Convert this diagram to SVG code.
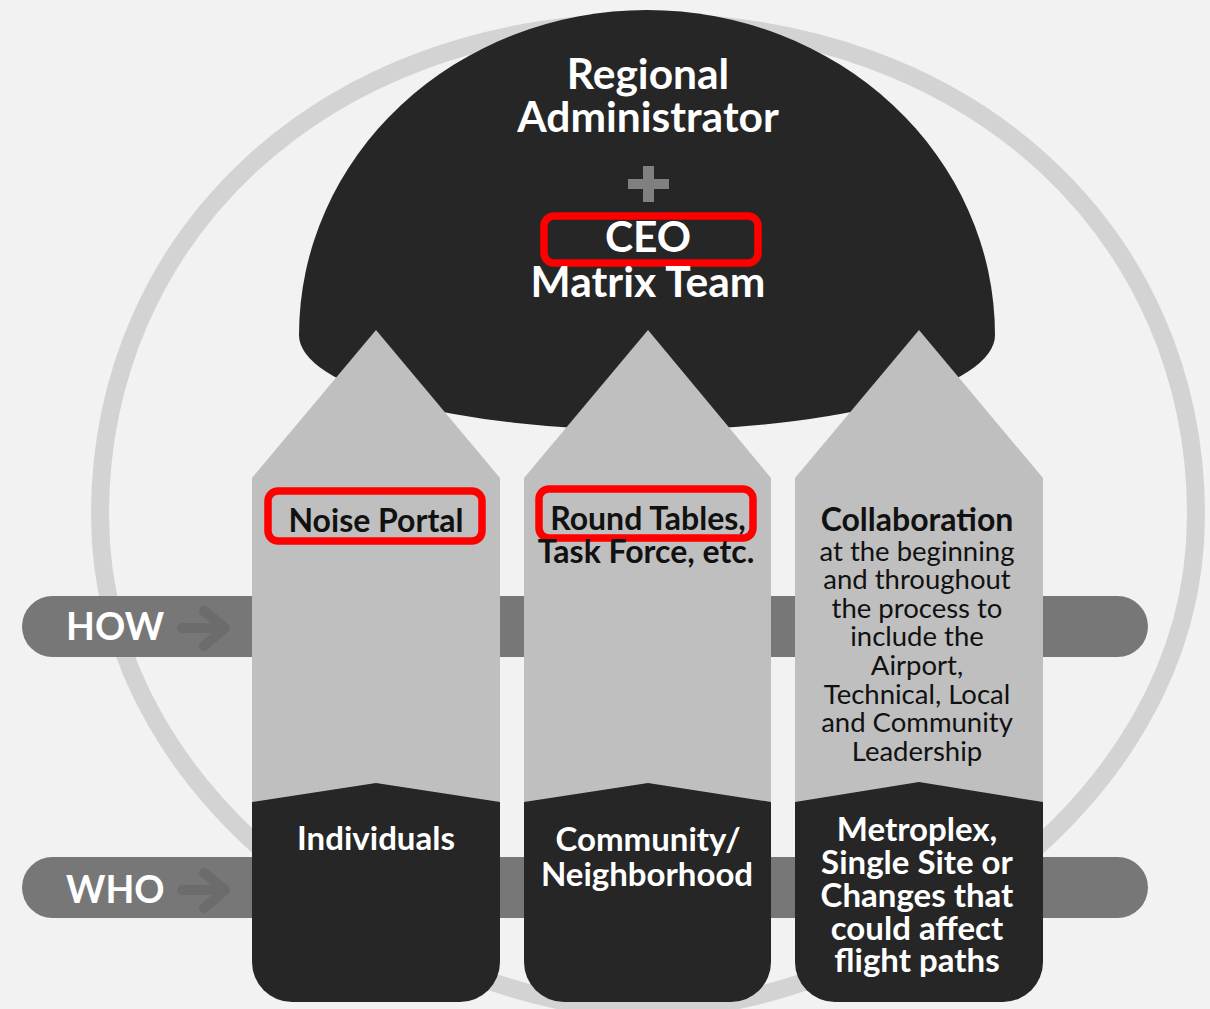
<svg xmlns="http://www.w3.org/2000/svg" width="1210" height="1009" viewBox="0 0 1210 1009">
  <defs>
    <style>
      .bg { fill: #f2f2f2; }
      .ring { fill: none; stroke: #d3d3d3; stroke-width: 18; }
      .dark { fill: #262626; }
      .light { fill: #bfbfbf; }
      .bar { fill: #777777; }
      .bar-arrow { fill: none; stroke: #6c6c6c; stroke-width: 10; stroke-linecap: round; stroke-linejoin: round; }
      .hl { fill: none; stroke: #ff0000; stroke-width: 7.5; }
      .t { font-family: Lato, "Open Sans", "Liberation Sans", sans-serif; text-anchor: middle; }
      .w { fill: #ffffff; font-weight: bold; }
      .b { fill: #111111; }
      .bold { font-weight: bold; }
      .big { font-size: 42.5px; }
      .mid { font-size: 32px; }
      .dk { font-size: 33px; }
      .small { font-size: 27.5px; }
      .lbl { font-family: Lato, "Open Sans", "Liberation Sans", sans-serif; font-size: 37.5px; font-weight: bold; fill: #ffffff; }
    </style>
  </defs>

  <rect class="bg" x="0" y="0" width="1210" height="1009"/>

  <!-- outer ring behind everything -->
  <g id="ring">
    <path class="ring" d="M100,515 C100,239 319,22 648,22 C977,22 1196,239 1196,515 C1196,822 856,1010 648,1010 C440,1010 100,822 100,515 Z"/>
  </g>

  <!-- leadership dome -->
  <g id="dome">
    <path class="dark" d="M299,335 A348,325 0 0 1 995,335 A348,95 0 0 1 299,335 Z"/>
    <text class="t w big" x="648" y="89">Regional</text>
    <text class="t w big" x="648" y="132">Administrator</text>
    <rect x="628" y="179" width="41" height="10" fill="#808080"/>
    <rect x="643" y="166" width="11" height="36" fill="#808080"/>
    <rect class="hl" x="544" y="216" width="214" height="47" rx="10"/>
    <text class="t w big" x="648" y="252">CEO</text>
    <text class="t w big" x="648" y="297">Matrix Team</text>
  </g>

  <!-- HOW / WHO bands -->
  <g id="how">
    <rect class="bar" x="22" y="596" width="1126" height="61" rx="30.5"/>
    <text class="lbl" x="66" y="640">HOW</text>
  </g>
  <g id="who">
    <rect class="bar" x="22" y="857" width="1126" height="61" rx="30.5"/>
    <text class="lbl" x="66" y="903">WHO</text>
  </g>
  <g id="connectors">
    <path class="bar-arrow" d="M182,628 H224 M204,611 L225,628 L204,646"/>
    <path class="bar-arrow" d="M182,890 H224 M204,873 L225,890 L204,908"/>
  </g>

  <!-- column 1 -->
  <g id="col-individuals">
    <polygon class="light" points="376,330 500,478 500,805 252,805 252,478"/>
    <path class="dark" d="M252,802 L376,783 L500,802 L500,962 A40,40 0 0 1 460,1002 L292,1002 A40,40 0 0 1 252,962 Z"/>
    <rect class="hl" x="268" y="491" width="214" height="50" rx="10"/>
    <text class="t b bold mid" x="376" y="532">Noise Portal</text>
    <text class="t w dk" x="376" y="850">Individuals</text>
  </g>

  <!-- column 2 -->
  <g id="col-community">
    <polygon class="light" points="648,330 771,478 771,805 524,805 524,478"/>
    <path class="dark" d="M524,802 L648,783 L771,802 L771,962 A40,40 0 0 1 731,1002 L564,1002 A40,40 0 0 1 524,962 Z"/>
    <rect class="hl" x="539" y="489" width="214" height="49" rx="10"/>
    <text class="t b bold mid" x="648" y="530">Round Tables,</text>
    <text class="t b bold mid" x="646" y="563">Task Force, etc.</text>
    <text class="t w dk" x="648" y="851">Community/</text>
    <text class="t w dk" x="647" y="886">Neighborhood</text>
  </g>

  <!-- column 3 -->
  <g id="col-metroplex">
    <polygon class="light" points="919,330 1043,478 1043,805 795,805 795,478"/>
    <path class="dark" d="M795,802 L919,782 L1043,802 L1043,962 A40,40 0 0 1 1003,1002 L835,1002 A40,40 0 0 1 795,962 Z"/>
    <text class="t b bold mid" x="917" y="531">Collaboration</text>
    <text class="t b small" x="917" y="561">at the beginning</text>
    <text class="t b small" x="917" y="589">and throughout</text>
    <text class="t b small" x="917" y="618">the process to</text>
    <text class="t b small" x="917" y="646">include the</text>
    <text class="t b small" x="917" y="675">Airport,</text>
    <text class="t b small" x="917" y="704">Technical, Local</text>
    <text class="t b small" x="917" y="732">and Community</text>
    <text class="t b small" x="917" y="761">Leadership</text>
    <text class="t w dk" x="917" y="841">Metroplex,</text>
    <text class="t w dk" x="917" y="874">Single Site or</text>
    <text class="t w dk" x="917" y="907">Changes that</text>
    <text class="t w dk" x="917" y="940">could affect</text>
    <text class="t w dk" x="917" y="972">flight paths</text>
  </g>
</svg>
